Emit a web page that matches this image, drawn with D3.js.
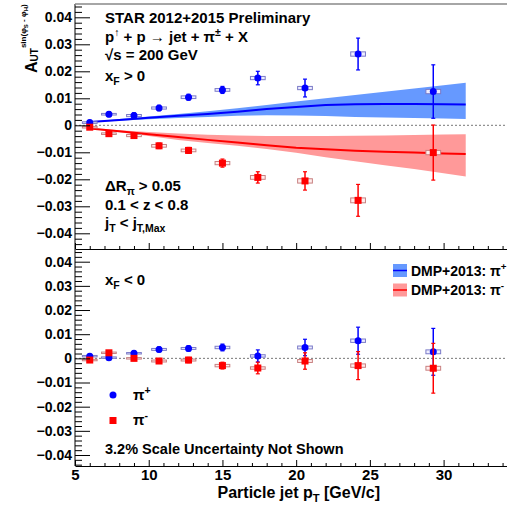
<!DOCTYPE html>
<html>
<head>
<meta charset="utf-8">
<script src="https://cdn.jsdelivr.net/npm/d3@7"></script>
<style>
  body { margin: 0; background: #fff; }
  svg { display: block; font-family: "Liberation Sans", Arial, sans-serif; }
  .axis text { font-weight: bold; fill: #000; }
  .axis path, .axis line { stroke: #000; }
  .lbl { font-weight: bold; fill: #000; }
</style>
</head>
<body>
<svg id="chart" width="507" height="506"></svg>
<script>
// particle jet pT bin centres (GeV/c)
const ptBins = [6.0, 7.3, 9.0, 10.7, 12.7, 15.0, 17.4, 20.6, 24.2, 29.3];

// xF > 0
const fwdPlus = [0.0010, 0.0041, 0.0036, 0.0064, 0.0104, 0.0131, 0.0175, 0.0138, 0.0264, 0.0125];
const fwdPlusStat = [0.0008, 0.0009, 0.0010, 0.0010, 0.0011, 0.0013, 0.0025, 0.0033, 0.0059, 0.0099];
const fwdPlusSys = [0.0003, 0.0003, 0.0004, 0.0004, 0.0005, 0.0005, 0.0006, 0.0006, 0.0008, 0.0008];
const fwdMinus = [-0.0007, -0.0031, -0.0038, -0.0076, -0.0093, -0.0140, -0.0193, -0.0206, -0.0278, -0.0101];
const fwdMinusStat = [0.0008, 0.0009, 0.0010, 0.0010, 0.0011, 0.0015, 0.0021, 0.0034, 0.0059, 0.0102];
const fwdMinusSys = [0.0003, 0.0003, 0.0004, 0.0005, 0.0005, 0.0006, 0.0007, 0.0008, 0.0009, 0.0008];

// xF < 0
const bwdPlus = [0.0009, 0.0003, 0.0021, 0.0037, 0.0041, 0.0045, 0.0010, 0.0045, 0.0073, 0.0027];
const bwdPlusStat = [0.0008, 0.0008, 0.0009, 0.0010, 0.0011, 0.0014, 0.0025, 0.0034, 0.0056, 0.0097];
const bwdPlusSys = [0.0003, 0.0003, 0.0003, 0.0004, 0.0004, 0.0005, 0.0005, 0.0006, 0.0007, 0.0008];
const bwdMinus = [-0.0007, 0.0023, 0.0000, -0.0011, -0.0007, -0.0030, -0.0040, -0.0011, -0.0030, -0.0041];
const bwdMinusStat = [0.0008, 0.0008, 0.0009, 0.0010, 0.0011, 0.0014, 0.0024, 0.0034, 0.0058, 0.0103];
const bwdMinusSys = [0.0003, 0.0003, 0.0003, 0.0004, 0.0004, 0.0005, 0.0005, 0.0006, 0.0007, 0.0008];

// DMP+2013 model curves (xF > 0)
const modelPt = [6, 8, 10, 12, 14, 16, 18, 20, 22, 24, 26, 28, 30, 31.5];
const dmpPlus = [0.0012, 0.0020, 0.0028, 0.0035, 0.0042, 0.0050, 0.0060, 0.0068, 0.0075, 0.0078, 0.0079, 0.0079, 0.0078, 0.0077];
const dmpPlusHi = [0.0013, 0.0023, 0.0033, 0.0042, 0.0052, 0.0063, 0.0075, 0.0088, 0.0100, 0.0112, 0.0124, 0.0136, 0.0148, 0.0158];
const dmpPlusLo = [0.0011, 0.0017, 0.0022, 0.0027, 0.0031, 0.0035, 0.0037, 0.0036, 0.0034, 0.0031, 0.0029, 0.0027, 0.0025, 0.0023];
const dmpMinus = [-0.0012, -0.0022, -0.0033, -0.0043, -0.0054, -0.0064, -0.0074, -0.0083, -0.0089, -0.0094, -0.0098, -0.0101, -0.0104, -0.0106];
const dmpMinusHi = [-0.0011, -0.0018, -0.0025, -0.0030, -0.0035, -0.0038, -0.0040, -0.0040, -0.0040, -0.0039, -0.0038, -0.0036, -0.0034, -0.0033];
const dmpMinusLo = [-0.0013, -0.0026, -0.0040, -0.0054, -0.0066, -0.0076, -0.0088, -0.0102, -0.0118, -0.0133, -0.0148, -0.0162, -0.0178, -0.0190];

const xMajor = [5, 10, 15, 20, 25, 30];
const yMajor = [-0.04, -0.03, -0.02, -0.01, 0, 0.01, 0.02, 0.03, 0.04];

const BLUE = "#0000ff", RED = "#ff0000";
const BLUE_BAND = "#6699ff", RED_BAND = "#ff9999";

const svg = d3.select("#chart");

const x = d3.scaleLinear().domain([5, 34.3]).range([75, 507]);
const yTop = d3.scaleLinear().domain([-0.04, 0.04]).range([233.3, 17.3]);
const yBot = d3.scaleLinear().domain([-0.04, 0.04]).range([455, 261.7]);

const panelTop = { y: yTop, y0: 4, y1: 249 };
const panelBot = { y: yBot, y0: 249, y1: 466 };

const fmtY = v => Math.abs(v) < 1e-9 ? "0" : d3.format(".2f")(v);
const xMinor = d3.range(5, 35, 1).filter(v => v % 5 !== 0);
const yMinor = d3.range(-22, 23).map(v => v / 500).filter(v => Math.round(v * 500) % 5 !== 0);

// zero lines
[panelTop, panelBot].forEach(p => {
    svg.append("line")
        .attr("x1", x(5)).attr("x2", 507)
        .attr("y1", p.y(0)).attr("y2", p.y(0))
        .attr("stroke", "#777").attr("stroke-width", 1)
        .attr("stroke-dasharray", "2,2");
});

// model bands
function drawModel(mid, lo, hi, bandColor, lineColor) {
    const idx = d3.range(modelPt.length);
    svg.append("path")
        .datum(idx)
        .attr("fill", bandColor)
        .attr("d", d3.area()
            .x(i => x(modelPt[i]))
            .y0(i => yTop(lo[i]))
            .y1(i => yTop(hi[i])));
    svg.append("path")
        .datum(idx)
        .attr("fill", "none")
        .attr("stroke", lineColor)
        .attr("stroke-width", 2)
        .attr("d", d3.line().x(i => x(modelPt[i])).y(i => yTop(mid[i])));
}
drawModel(dmpPlus, dmpPlusLo, dmpPlusHi, BLUE_BAND, BLUE);
drawModel(dmpMinus, dmpMinusLo, dmpMinusHi, RED_BAND, RED);

// data points
function drawPoints(y, vals, stat, sys, color, boxStroke, boxFill, shape) {
    const g = svg.append("g");
    const d = d3.range(ptBins.length);
    g.selectAll("rect.sys").data(d).enter().append("rect")
        .attr("x", i => x(ptBins[i] - 0.5))
        .attr("width", i => x(ptBins[i] + 0.5) - x(ptBins[i] - 0.5))
        .attr("y", i => y(vals[i] + sys[i]))
        .attr("height", i => y(vals[i] - sys[i]) - y(vals[i] + sys[i]))
        .attr("fill", boxFill).attr("stroke", boxStroke).attr("stroke-width", 1);
    g.selectAll("line.err").data(d).enter().append("line")
        .attr("x1", i => x(ptBins[i])).attr("x2", i => x(ptBins[i]))
        .attr("y1", i => y(vals[i] - stat[i])).attr("y2", i => y(vals[i] + stat[i]))
        .attr("stroke", color).attr("stroke-width", 1.5);
    [-1, 1].forEach(s => {
        g.selectAll(null).data(d).enter().append("line")
            .attr("x1", i => x(ptBins[i]) - 2).attr("x2", i => x(ptBins[i]) + 2)
            .attr("y1", i => y(vals[i] + s * stat[i])).attr("y2", i => y(vals[i] + s * stat[i]))
            .attr("stroke", color).attr("stroke-width", 1.2);
    });
    if (shape === "circle") {
        g.selectAll("circle").data(d).enter().append("circle")
            .attr("cx", i => x(ptBins[i])).attr("cy", i => y(vals[i]))
            .attr("r", 3.5).attr("fill", color);
    } else {
        g.selectAll("rect.m").data(d).enter().append("rect")
            .attr("x", i => x(ptBins[i]) - 3.5).attr("y", i => y(vals[i]) - 3.5)
            .attr("width", 7).attr("height", 7).attr("fill", color);
    }
}
drawPoints(yTop, fwdPlus, fwdPlusStat, fwdPlusSys, BLUE, "#7a7ac8", "#eeeeff", "circle");
drawPoints(yTop, fwdMinus, fwdMinusStat, fwdMinusSys, RED, "#c88080", "#ffeeee", "square");
drawPoints(yBot, bwdPlus, bwdPlusStat, bwdPlusSys, BLUE, "#7a7ac8", "#eeeeff", "circle");
drawPoints(yBot, bwdMinus, bwdMinusStat, bwdMinusSys, RED, "#c88080", "#ffeeee", "square");

// axes
function yAxes(p) {
    svg.append("g").attr("class", "axis")
        .attr("transform", "translate(75,0)")
        .call(d3.axisLeft(p.y).tickValues(yMajor).tickFormat(fmtY).tickSize(-15).tickSizeOuter(0).tickPadding(3))
        .call(g => g.select(".domain").remove())
        .call(g => g.selectAll("text").attr("font-size", 14).attr("font-family", "Liberation Sans, Arial"));
    svg.append("g").attr("class", "axis")
        .attr("transform", "translate(75,0)")
        .call(d3.axisLeft(p.y).tickValues(yMinor).tickFormat("").tickSize(-7).tickSizeOuter(0))
        .call(g => g.select(".domain").remove());
    svg.append("line").attr("x1", 75).attr("x2", 75)
        .attr("y1", p.y0).attr("y2", p.y1).attr("stroke", "#000");
}
yAxes(panelTop);
yAxes(panelBot);

function xAxis(yPos, labels) {
    const g = svg.append("g").attr("class", "axis")
        .attr("transform", `translate(0,${yPos})`)
        .call(d3.axisBottom(x).tickValues(xMajor).tickSize(-6).tickSizeOuter(0).tickPadding(3)
            .tickFormat(labels ? d3.format("d") : ""));
    g.selectAll("text").attr("font-size", 15).attr("font-family", "Liberation Sans, Arial");
    svg.append("g").attr("class", "axis")
        .attr("transform", `translate(0,${yPos})`)
        .call(d3.axisBottom(x).tickValues(xMinor).tickSize(-3).tickSizeOuter(0).tickFormat(""))
        .call(g => g.select(".domain").remove());
}
xAxis(249, false);
xAxis(466, true);

svg.append("line").attr("x1", 75).attr("x2", 507).attr("y1", 4).attr("y2", 4)
    .attr("stroke", "#888").attr("stroke-width", 1.5);

// rich text helper: parts are strings or [mode, text]
function rich(xp, yp, parts, size, opts = {}) {
    const t = svg.append("text").attr("class", "lbl")
        .attr("x", xp).attr("y", yp).attr("font-size", size)
        .attr("text-anchor", opts.anchor || "start");
    if (opts.weight) t.attr("font-weight", opts.weight);
    let shift = 0;
    parts.forEach(p => {
        let mode = "n", s = p;
        if (Array.isArray(p)) { mode = p[0]; s = p[1]; }
        const target = mode === "sub" ? size * 0.25 : mode === "sup" ? -size * 0.4 : 0;
        const ts = t.append("tspan").attr("dy", target - shift).text(s);
        if (mode !== "n") ts.attr("font-size", size * 0.7);
        shift = target;
    });
    return t;
}

rich(105, 23, ["STAR 2012+2015 Preliminary"], 15);
rich(105, 42, ["p", ["sup", "↑"], " + p → jet + π", ["sup", "±"], " + X"], 15);
rich(105, 60, ["√s = 200 GeV"], 15);
rich(105, 81, ["x", ["sub", "F"], " > 0"], 15);
rich(105, 191, ["ΔR", ["sub", "π"], " > 0.05"], 15);
rich(105, 210, ["0.1 < z < 0.8"], 15);
rich(105, 228, ["j", ["sub", "T"], " < j", ["sub", "T,Max"]], 15);
rich(105, 285, ["x", ["sub", "F"], " < 0"], 15);
rich(105, 454, ["3.2% Scale Uncertainty Not Shown"], 14.5);

// DMP legend
[[BLUE_BAND, BLUE, 264, "+"], [RED_BAND, RED, 283.5, "-"]].forEach(([band, line, yy, sign]) => {
    svg.append("rect").attr("x", 393).attr("y", yy).attr("width", 14).attr("height", 13).attr("fill", band);
    svg.append("line").attr("x1", 393).attr("x2", 407).attr("y1", yy + 6.5).attr("y2", yy + 6.5)
        .attr("stroke", line).attr("stroke-width", 1.5);
    rich(411, yy + 11.5, ["DMP+2013:  π", ["sup", sign]], 14);
});

// marker legend
svg.append("circle").attr("cx", 113).attr("cy", 395).attr("r", 3.5).attr("fill", BLUE);
svg.append("rect").attr("x", 109.5).attr("y", 417).attr("width", 7).attr("height", 7).attr("fill", RED);
rich(133, 400, ["π", ["sup", "+"]], 15, { weight: "normal" });
rich(133, 425, ["π", ["sup", "-"]], 15, { weight: "normal" });

// axis titles
rich(380, 498, ["Particle jet p", ["sub", "T"], " [GeV/c]"], 16, { anchor: "end" });

const yt = svg.append("text").attr("class", "lbl")
    .attr("transform", "translate(37,73) rotate(-90)");
yt.append("tspan").attr("font-size", 16).text("A");
yt.append("tspan").attr("font-size", 10).attr("dy", 1).text("UT");
yt.append("tspan").attr("font-size", 8).attr("dy", -12).text("sin(φ");
yt.append("tspan").attr("font-size", 6).attr("dy", 2).text("S");
yt.append("tspan").attr("font-size", 8).attr("dy", -2).text(" - φ");
yt.append("tspan").attr("font-size", 6).attr("dy", 2).text("H");
yt.append("tspan").attr("font-size", 8).attr("dy", -2).text(")");
</script>
</body>
</html>
